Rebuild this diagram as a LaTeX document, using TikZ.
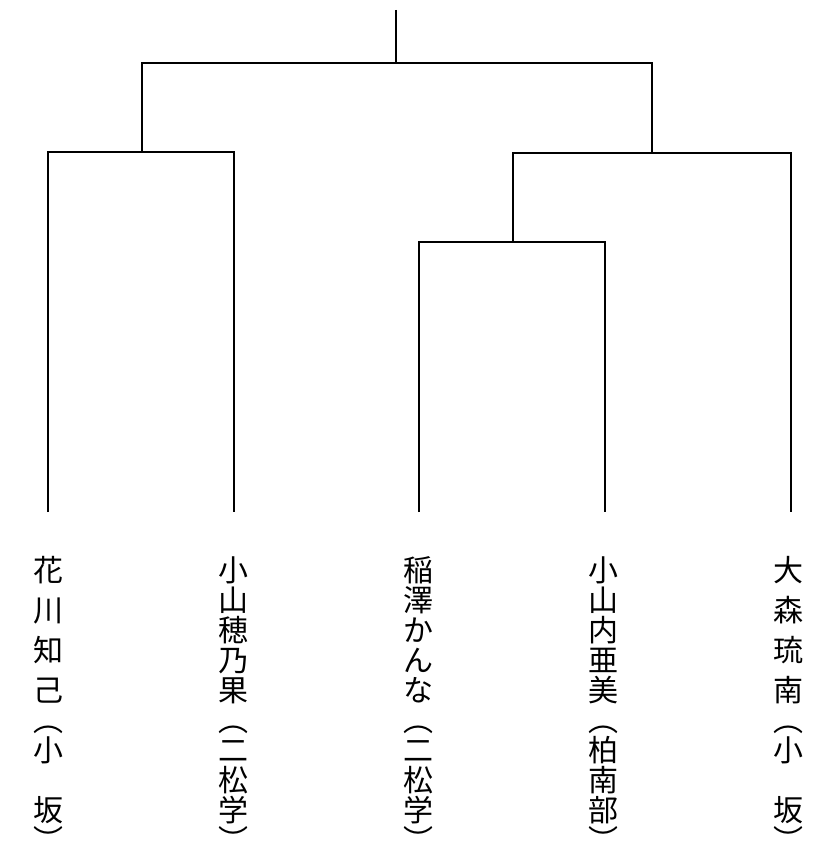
\documentclass[tikz,border=0pt]{standalone}
\usepackage{fontspec}
\newfontfamily\cjk{Noto Sans CJK JP}
\begin{document}
\begin{tikzpicture}[x=0.75pt,y=-0.75pt,
  bracket/.style={line width=1.4pt,black},
  namecol/.style={anchor=north,inner sep=0pt,align=center,
    font=\cjk\fontsize{22.5}{22.5}\selectfont}]
\useasboundingbox (0,0) rectangle (817,859);
% junctions and free ends
\coordinate (top) at (396,10);
\coordinate (root) at (396,63);
\coordinate (m1) at (142,152);
\coordinate (m2) at (652,153);
\coordinate (m3) at (513,242);
\coordinate (l1) at (48,512);
\coordinate (l2) at (234,512);
\coordinate (l3) at (419,512);
\coordinate (l4) at (605,512);
\coordinate (l5) at (791,512);
% player names
\node[namecol] (n1) at (48,556) {花\\[7.5pt]川\\[7.5pt]知\\[7.5pt]己\\︵\\小\\[22.5pt]坂\\︶};
\node[namecol] (n2) at (233,556) {小\\山\\穂\\乃\\果\\︵\\二\\松\\学\\︶};
\node[namecol] (n3) at (418,556) {稲\\澤\\か\\ん\\な\\︵\\二\\松\\学\\︶};
\node[namecol] (n4) at (603,556) {小\\山\\内\\亜\\美\\︵\\柏\\南\\部\\︶};
\node[namecol] (n5) at (788,556) {大\\[7.5pt]森\\[7.5pt]琉\\[7.5pt]南\\︵\\小\\[22.5pt]坂\\︶};
% brackets
\draw[bracket] (top) -- (root);
\draw[bracket] (m1) |- (root) -| (m2);
\draw[bracket] (l1) |- (m1) -| (l2);
\draw[bracket] (m3) |- (m2) -| (l5);
\draw[bracket] (l3) |- (m3) -| (l4);
\end{tikzpicture}
\end{document}
